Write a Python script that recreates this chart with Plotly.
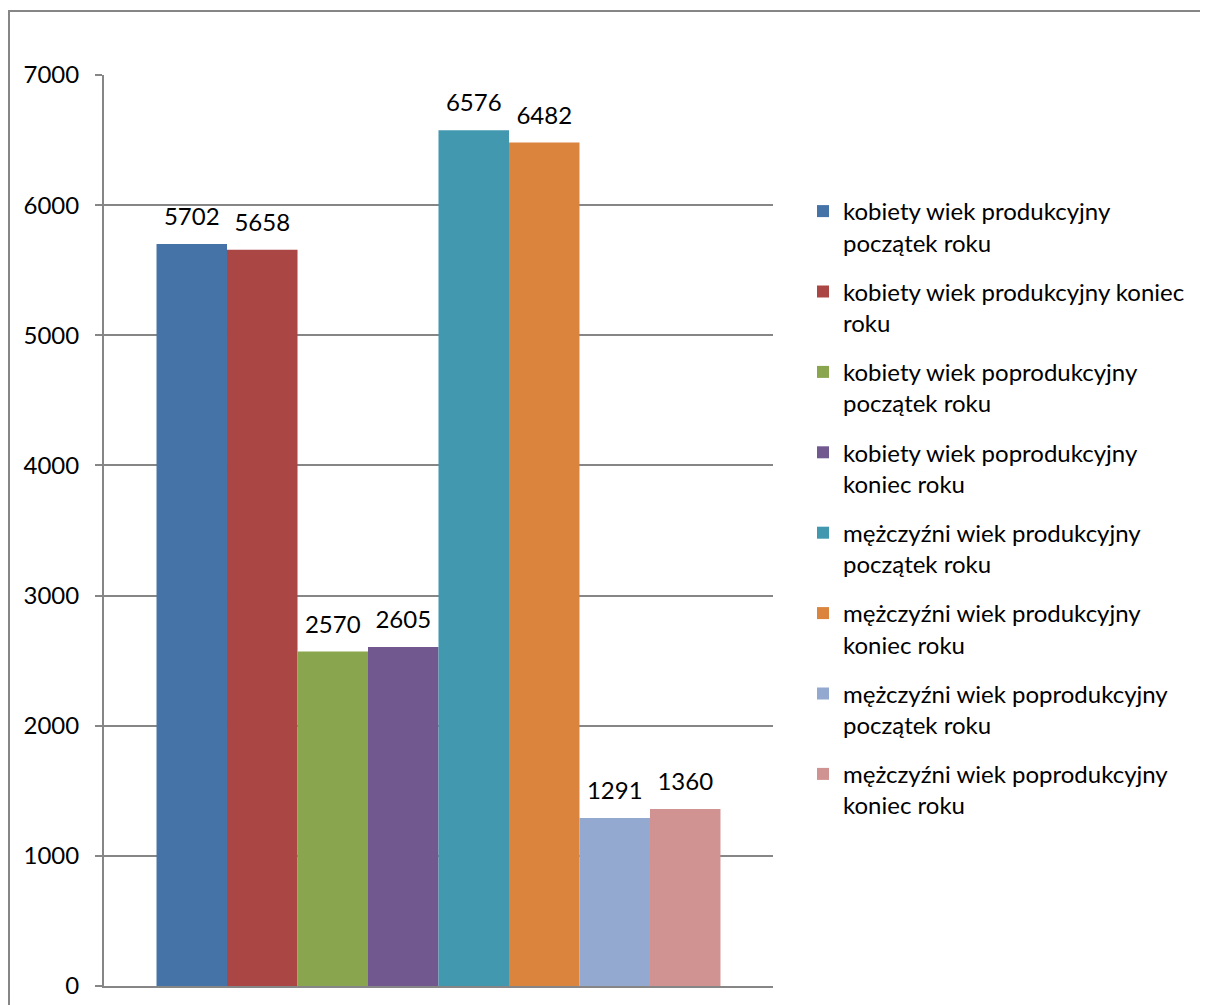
import plotly.graph_objects as go

category = ["2000"]
series_names = [
    "kobiety wiek produkcyjny<br>początek roku",
    "kobiety wiek produkcyjny koniec<br>roku",
    "kobiety wiek poprodukcyjny<br>początek roku",
    "kobiety wiek poprodukcyjny<br>koniec roku",
    "mężczyźni wiek produkcyjny<br>początek roku",
    "mężczyźni wiek produkcyjny<br>koniec roku",
    "mężczyźni wiek poprodukcyjny<br>początek roku",
    "mężczyźni wiek poprodukcyjny<br>koniec roku",
]
values = [5702, 5658, 2570, 2605, 6576, 6482, 1291, 1360]
colors = ["#4572A7", "#AA4643", "#89A54E", "#71588F",
          "#4198AF", "#DB843D", "#93A9CF", "#D19392"]

FONT = "Lato"
FS = 24
W, H = 1208, 1005
OFF = 8  # page offset of the figure
L, R, T, B = 104 - OFF, 773 - OFF, 75 - OFF, 986 - OFF
GAP = 0.157

fig = go.Figure()
for i, (name, v, c) in enumerate(zip(series_names, values, colors)):
    fig.add_trace(go.Bar(
        x=category, y=[v], name=name, marker=dict(color=c, line=dict(width=0)),
        offsetgroup=f"g{i}", legendgroup=f"g{i}",
    ))
for i, (v, c) in enumerate(zip(values, colors)):
    fig.add_trace(go.Scatter(
        x=category, y=[v], mode="markers+text", text=[str(v)],
        textposition="top center", cliponaxis=False,
        marker=dict(size=19, opacity=0, color=c),
        textfont=dict(family=FONT, size=FS, color="#000000"),
        offsetgroup=f"g{i}", legendgroup=f"g{i}", showlegend=False,
        hoverinfo="skip",
    ))

pw = R - L
ph = B - T
fig.update_layout(
    width=W, height=H,
    margin=dict(l=L, r=W - R, t=T, b=H - B, pad=0),
    paper_bgcolor="white", plot_bgcolor="white",
    barmode="group", bargap=GAP, bargroupgap=0,
    scattermode="group", scattergap=GAP,
    font=dict(family=FONT, size=FS, color="#000000"),
    xaxis=dict(showticklabels=False, showgrid=False, zeroline=False,
               showline=True, linecolor="#868686", linewidth=2, ticks=""),
    yaxis=dict(range=[0, 7000], dtick=1000, tick0=0, showgrid=True,
               gridcolor="#868686", gridwidth=2, zeroline=False,
               showline=True, linecolor="#868686", linewidth=2,
               ticks="outside", ticklen=7, tickcolor="#868686", tickwidth=2,
               ticklabelstandoff=11,
               tickfont=dict(family=FONT, size=FS, color="#000000")),
    legend=dict(xref="container", yref="container", x=795 / W, y=1 - 181 / H,
                xanchor="left", yanchor="top", valign="top", maxheight=900,
                font=dict(family=FONT, size=FS, color="#000000"),
                tracegroupgap=15, bgcolor="rgba(0,0,0,0)", itemwidth=30),
    showlegend=True,
    shapes=[dict(type="rect", xref="paper", yref="paper",
                 x0=(1 - L) / pw, x1=(W + 20 - L) / pw,
                 y0=1 - (H + 20 - T) / ph, y1=1 - (3 - T) / ph,
                 line=dict(color="#868686", width=2), fillcolor="rgba(0,0,0,0)",
                 layer="below")],
)

fig.write_html("out.html")
